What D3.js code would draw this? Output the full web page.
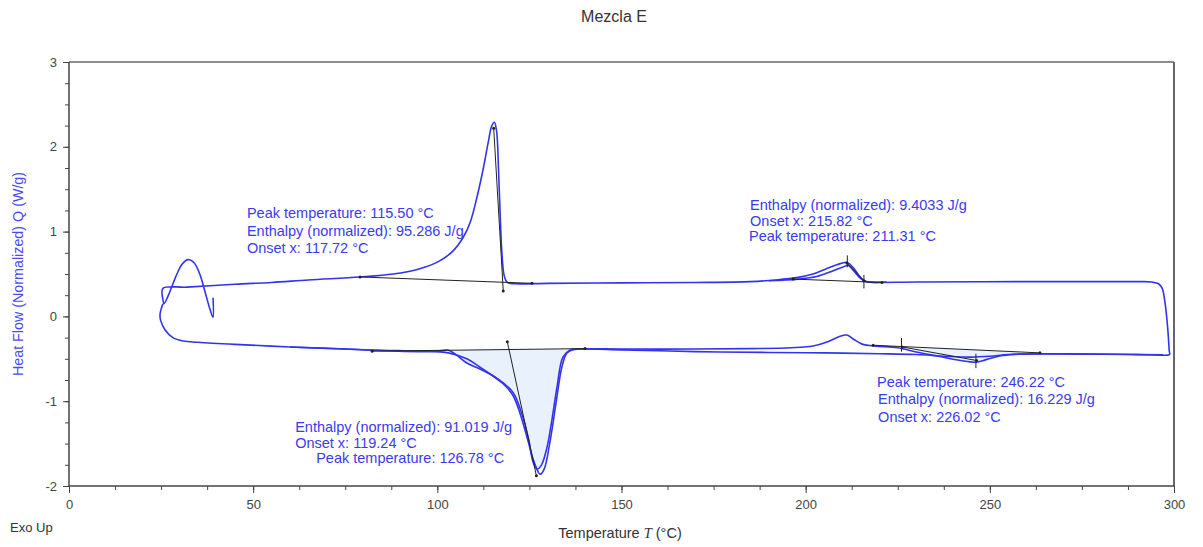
<!DOCTYPE html>
<html>
  <head>
    <meta charset="UTF-8">
    <title>Mezcla E</title>
    <script src="https://d3js.org/d3.v7.min.js"></script>
    <style>
      body { margin: 0; background: #fff; }
      svg.chart { font-family: "Liberation Sans", Arial, sans-serif; font-size: 13px; }
      .tick text { fill: #444; font-size: 13px; }
      .tick line { stroke: #444; }
      .note { fill: #3a3af0; font-size: 14.5px; }
    </style>
  </head>
  <body>
    <div id="chart"></div>
    <script>

      // ---- data (°C, W/g) ----
      const xTicks = [0, 50, 100, 150, 200, 250, 300];
      const yTicks = [-2, -1, 0, 1, 2, 3];

      // main loop: start transient, heating on top, return along the bottom
      const runMain = [
        [39.1, 0.22], [39.1, -0.01], [38.3, 0.08], [37, 0.28], [35.5, 0.5], [34, 0.63], [32.3, 0.67],
        [30.8, 0.62], [29.3, 0.5], [28, 0.36], [26.8, 0.23], [25.8, 0.15], [25.5, 0.2], [25.5, 0.33],
        [32, 0.345], [45, 0.38], [55, 0.40], [65, 0.43], [79, 0.465], [88, 0.5], [95, 0.56], [100, 0.64],
        [104, 0.76], [107, 0.93], [109, 1.12], [111, 1.45], [112.5, 1.75], [113.8, 2.05], [114.8, 2.25],
        [115.5, 2.29], [116.1, 2.18], [116.6, 1.75], [117.1, 1.15], [117.6, 0.7], [118.2, 0.47], [119, 0.4],
        [121, 0.385], [130, 0.39], [150, 0.395], [170, 0.4], [185, 0.41], [192, 0.43], [198, 0.46],
        [202, 0.5], [205.5, 0.56], [208.5, 0.61], [211.3, 0.635], [213, 0.57], [214.5, 0.48], [215.8, 0.42],
        [217, 0.405], [230, 0.405], [260, 0.41], [285, 0.41], [291, 0.41], [294, 0.405], [295.8, 0.385],
        [296.8, 0.33], [297.5, 0.18], [298, 0.0], [298.4, -0.2], [298.7, -0.4], [298.8, -0.45], [298.2, -0.457],
        [295, -0.455], [288, -0.45], [280, -0.447], [270, -0.443], [262, -0.442], [255, -0.45], [250, -0.47],
        [245, -0.48], [238, -0.47], [230, -0.45],
        [220, -0.44], [205, -0.43], [190, -0.425], [170, -0.415], [150, -0.395], [140, -0.385],
        [137, -0.39], [135.2, -0.43], [133.8, -0.6], [132.3, -1.0], [130.5, -1.5], [129, -1.8],
        [127.9, -1.86], [126.3, -1.72], [124.5, -1.45], [122.5, -1.15], [120.5, -0.93], [118, -0.8],
        [115, -0.7], [111.6, -0.6], [108, -0.5], [103, -0.43], [95, -0.41], [85, -0.4], [75, -0.385],
        [60, -0.36], [45, -0.33], [35, -0.305], [31, -0.29], [28.2, -0.25], [26.1, -0.16], [24.9, -0.05],
        [24.7, 0.02], [25.1, 0.1], [25.5, 0.15]
      ];

      // second run, bottom branch
      const runSecond = [
        [297, -0.452], [285, -0.447], [275, -0.443], [265, -0.44], [258, -0.445], [253, -0.465], [249, -0.51],
        [246.2, -0.54], [242, -0.52], [236, -0.47], [230, -0.42], [225, -0.37], [219, -0.35], [215.5, -0.33],
        [213, -0.27], [211.2, -0.22], [209, -0.24], [206, -0.3], [202, -0.35], [196, -0.37], [185, -0.38],
        [170, -0.385], [150, -0.385], [139, -0.385], [136, -0.4], [134.1, -0.48], [132.5, -0.83], [131, -1.25],
        [129.8, -1.54], [128.3, -1.75], [127.1, -1.8], [126, -1.72], [124.8, -1.45], [123.3, -1.2],
        [120.6, -0.9], [116.2, -0.73], [112, -0.63], [108, -0.55], [105, -0.45], [103, -0.4], [100, -0.41],
        [95, -0.415], [85, -0.405], [75, -0.385], [60, -0.36]
      ];

      // second run, small top peak
      const runSecondTop = [
        [190, 0.42], [198, 0.44], [203, 0.47], [207, 0.53], [210, 0.58], [211.5, 0.6], [213.2, 0.53],
        [214.8, 0.45], [216.5, 0.41], [222, 0.405]
      ];

      // integration baselines and tangent lines
      const baselines = [
        [[79, 0.465], [125.7, 0.39]],
        [[196.6, 0.44], [220.7, 0.40]],
        [[82.3, -0.41], [140.1, -0.38]],
        [[218.3, -0.34], [263.6, -0.43]]
      ];
      const tangents = [
        [[115.3, 2.22], [117.9, 0.30]],
        [[211.2, 0.63], [215.82, 0.42]],
        [[119.0, -0.30], [126.9, -1.88]],
        [[226.2, -0.36], [246.4, -0.52]]
      ];
      const markTicks = [
        [[211.31, 0.58], [211.31, 0.72]],
        [[215.82, 0.33], [215.82, 0.49]],
        [[226.02, -0.255], [226.02, -0.415]],
        [[246.22, -0.44], [246.22, -0.61]]
      ];
      const fills = [
        { from: 103, to: 136.5, base: baselines[2] },
        { from: 226, to: 258, base: baselines[3] }
      ];

      const notes = [
        { x: 48.3, y: 1.16, lines: ["Peak temperature: 115.50 °C", "Enthalpy (normalized): 95.286 J/g", "Onset x: 117.72 °C"], dx: [0, 0, 0] },
        { x: 184.9, y: 1.25, lines: ["Enthalpy (normalized): 9.4033 J/g", "Onset x: 215.82 °C", "Peak temperature: 211.31 °C"], dx: [0, 0, -1], step: [0, 15.5, 15] },
        { x: 61.4, y: -1.36, lines: ["Enthalpy (normalized): 91.019 J/g", "Onset x: 119.24 °C", "Peak temperature: 126.78 °C"], dx: [0, 0, 21], step: [0, 16.5, 15] },
        { x: 219.4, y: -0.83, lines: ["Peak temperature: 246.22 °C", "Enthalpy (normalized): 16.229 J/g", "Onset x: 226.02 °C"], dx: [0, 1, 1] }
      ];

      // ---- layout ----
      const width = 1203, height = 547;
      const x = d3.scaleLinear().domain([0, 300]).range([69, 1174]);
      const y = d3.scaleLinear().domain([-2, 3]).range([486, 62]);
      const blue = "#3333ee";

      const svg = d3.select("#chart").append("svg")
        .attr("class", "chart")
        .attr("width", width)
        .attr("height", height);

      // title
      svg.append("text").attr("x", 614).attr("y", 22).attr("text-anchor", "middle")
        .style("font-size", "16px").attr("fill", "#333").text("Mezcla E");

      // minor ticks
      svg.append("g").attr("transform", `translate(0,${y(-2)})`)
        .call(d3.axisBottom(x).tickValues(d3.range(0, 300.1, 12.5)).tickSize(4).tickFormat(""))
        .call(g => g.select(".domain").remove());
      svg.append("g").attr("transform", `translate(${x(0)},0)`)
        .call(d3.axisLeft(y).tickValues(d3.range(-2, 3.01, 0.25)).tickSize(4).tickFormat(""))
        .call(g => g.select(".domain").remove());

      // major axes
      svg.append("g").attr("transform", `translate(0,${y(-2)})`)
        .call(d3.axisBottom(x).tickValues(xTicks).tickSize(7).tickPadding(7).tickFormat(d => String(d)))
        .call(g => g.select(".domain").remove());
      svg.append("g").attr("transform", `translate(${x(0)},0)`)
        .call(d3.axisLeft(y).tickValues(yTicks).tickSize(6).tickPadding(6).tickFormat(d => String(d)))
        .call(g => g.select(".domain").remove());

      // frame
      svg.append("line").attr("x1", x(0)).attr("x2", x(300)).attr("y1", y(3)).attr("y2", y(3))
        .attr("stroke", "#666").attr("stroke-width", 1.5);
      svg.append("line").attr("x1", x(300)).attr("x2", x(300)).attr("y1", y(3)).attr("y2", y(-2))
        .attr("stroke", "#666").attr("stroke-width", 2);
      svg.append("line").attr("x1", x(0)).attr("x2", x(300)).attr("y1", y(-2)).attr("y2", y(-2))
        .attr("stroke", "#444").attr("stroke-width", 1.5);
      svg.append("line").attr("x1", x(0)).attr("x2", x(0)).attr("y1", y(3)).attr("y2", y(-2))
        .attr("stroke", "#444").attr("stroke-width", 1.5);

      // axis titles
      svg.append("text").attr("x", 10).attr("y", 532).attr("fill", "#333").text("Exo Up");
      const xt = svg.append("text").attr("x", 620).attr("y", 538).attr("text-anchor", "middle")
        .style("font-size", "14.5px").attr("fill", "#333");
      xt.append("tspan").text("Temperature ");
      xt.append("tspan").style("font-style", "italic").style("font-family", "Liberation Serif, serif").text("T");
      xt.append("tspan").text(" (°C)");
      svg.append("text").attr("transform", `translate(23,${(y(3) + y(-2)) / 2}) rotate(-90)`)
        .attr("text-anchor", "middle").style("font-size", "14.3px").attr("fill", "#4a4af5")
        .text("Heat Flow (Normalized) Q (W/g)");

      // filled integration areas
      fills.forEach(f => {
        const [b0, b1] = f.base;
        const baseAt = t => b0[1] + (b1[1] - b0[1]) * (t - b0[0]) / (b1[0] - b0[0]);
        const pts = runSecond.filter(d => d[0] >= f.from && d[0] <= f.to).sort((a, b) => a[0] - b[0]);
        svg.append("path").datum(pts)
          .attr("fill", "#e8f1fc")
          .attr("d", d3.area().x(d => x(d[0])).y0(d => y(baseAt(d[0]))).y1(d => y(d[1])).curve(d3.curveMonotoneX));
      });

      // curves
      const line = d3.line().x(d => x(d[0])).y(d => y(d[1])).curve(d3.curveCatmullRom.alpha(0.5));
      [runMain, runSecond, runSecondTop].forEach(run => {
        svg.append("path").datum(run)
          .attr("fill", "none").attr("stroke", blue).attr("stroke-width", 1.6)
          .attr("stroke-linejoin", "round").attr("d", line);
      });

      // annotation lines
      const straight = d3.line().x(d => x(d[0])).y(d => y(d[1]));
      [...baselines, ...tangents, ...markTicks].forEach(seg => {
        svg.append("path").datum(seg).attr("fill", "none").attr("stroke", "#222")
          .attr("stroke-width", 1).attr("d", straight);
      });
      svg.selectAll("circle.dot").data(baselines.flat().concat(tangents.flat())).enter()
        .append("circle").attr("class", "dot")
        .attr("cx", d => x(d[0])).attr("cy", d => y(d[1])).attr("r", 1.5).attr("fill", "#222");

      // annotation texts
      notes.forEach(n => {
        const step = n.step || [0, 17.5, 17.5];
        let yy = y(n.y);
        n.lines.forEach((t, i) => {
          yy += step[i];
          svg.append("text").attr("class", "note").attr("x", x(n.x) + n.dx[i]).attr("y", yy).text(t);
        });
      });

    </script>
  </body>
</html>
